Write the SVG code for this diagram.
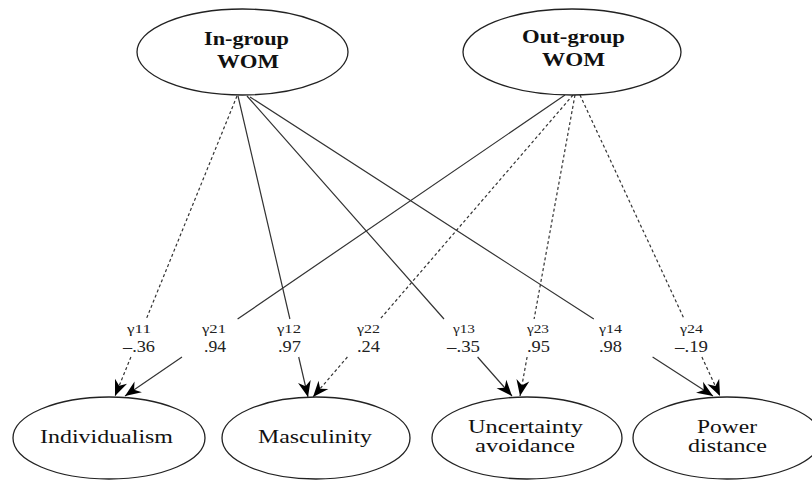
<svg xmlns="http://www.w3.org/2000/svg" width="812" height="480" viewBox="0 0 812 480">
<style>
.node{fill:#fff;stroke:#222;stroke-width:1.3}
.t{font-family:"Liberation Serif","Times New Roman",serif;fill:#111;text-anchor:middle}
.top{font-size:19px;font-weight:bold}
.bot{font-size:19px}
.g{font-size:12.5px;fill:#222}
.n{font-size:17px;fill:#222}
.c{fill:none;stroke:#333;stroke-width:1.2;marker-end:url(#arr)}
.d{stroke-dasharray:3 2.5}
</style>
<defs>
<marker id="arr" markerUnits="userSpaceOnUse" viewBox="-17 -8 18 16" refX="0" refY="0" markerWidth="18" markerHeight="16" orient="auto">
<path d="M0,0 L-16,-6.5 L-11,0 L-16,6.5 Z" fill="#000"/>
</marker>
</defs>
<g id="connectors">
<path class="c d" d="M237,96 L146.3,319 M130.9,357 L115,396"/>
<path class="c" d="M238,96 L289.9,319 M298.7,357 L308,397"/>
<path class="c" d="M247,96 L444,319 M477.6,357 L512,396"/>
<path class="c" d="M250,97 L593.8,319 M652.6,357 L713,396"/>
<path class="c" d="M565,95 L237.6,319 M182,357 L125,396"/>
<path class="c d" d="M573,95 L380.2,319 M347.4,357 L313,397"/>
<path class="c d" d="M575,95 L534.1,319 M527.1,357 L520,396"/>
<path class="c d" d="M580,95 L684.2,319 M701.9,357 L720,396"/>
</g>
<g id="labels">
<text class="t g" x="139" y="333" textLength="24" lengthAdjust="spacingAndGlyphs">γ11</text>
<text class="t n" x="139" y="352" textLength="32" lengthAdjust="spacingAndGlyphs">–.36</text>
<text class="t g" x="214" y="333" textLength="24" lengthAdjust="spacingAndGlyphs">γ21</text>
<text class="t n" x="215" y="352" textLength="22" lengthAdjust="spacingAndGlyphs">.94</text>
<text class="t g" x="289" y="333" textLength="24" lengthAdjust="spacingAndGlyphs">γ12</text>
<text class="t n" x="289.5" y="352" textLength="23" lengthAdjust="spacingAndGlyphs">.97</text>
<text class="t g" x="368.5" y="333" textLength="23" lengthAdjust="spacingAndGlyphs">γ22</text>
<text class="t n" x="368.5" y="352" textLength="23" lengthAdjust="spacingAndGlyphs">.24</text>
<text class="t g" x="464" y="333" textLength="22" lengthAdjust="spacingAndGlyphs">γ13</text>
<text class="t n" x="463.5" y="352" textLength="33" lengthAdjust="spacingAndGlyphs">–.35</text>
<text class="t g" x="538" y="333" textLength="22" lengthAdjust="spacingAndGlyphs">γ23</text>
<text class="t n" x="538.5" y="352" textLength="23" lengthAdjust="spacingAndGlyphs">.95</text>
<text class="t g" x="610.5" y="333" textLength="23" lengthAdjust="spacingAndGlyphs">γ14</text>
<text class="t n" x="610.5" y="352" textLength="23" lengthAdjust="spacingAndGlyphs">.98</text>
<text class="t g" x="691.5" y="333" textLength="23" lengthAdjust="spacingAndGlyphs">γ24</text>
<text class="t n" x="691.5" y="352" textLength="33" lengthAdjust="spacingAndGlyphs">–.19</text>
</g>
<g id="ingroup">
<ellipse class="node" cx="242.5" cy="52" rx="105.5" ry="43"/>
<text class="t top" x="246.5" y="45" textLength="85" lengthAdjust="spacingAndGlyphs">In-group</text>
<text class="t top" x="248" y="68" textLength="62" lengthAdjust="spacingAndGlyphs">WOM</text>
</g>
<g id="outgroup">
<ellipse class="node" cx="572" cy="52" rx="109" ry="43"/>
<text class="t top" x="573.5" y="43" textLength="103" lengthAdjust="spacingAndGlyphs">Out-group</text>
<text class="t top" x="573.5" y="66" textLength="63" lengthAdjust="spacingAndGlyphs">WOM</text>
</g>
<g id="individualism">
<ellipse class="node" cx="109" cy="438" rx="96" ry="41"/>
<text class="t bot" x="106.5" y="443" textLength="133" lengthAdjust="spacingAndGlyphs">Individualism</text>
</g>
<g id="masculinity">
<ellipse class="node" cx="316" cy="438" rx="94" ry="41"/>
<text class="t bot" x="315" y="443" textLength="114" lengthAdjust="spacingAndGlyphs">Masculinity</text>
</g>
<g id="uncertainty">
<ellipse class="node" cx="527" cy="438" rx="95" ry="41"/>
<text class="t bot" x="525.5" y="433" textLength="115" lengthAdjust="spacingAndGlyphs">Uncertainty</text>
<text class="t bot" x="525" y="452" textLength="100" lengthAdjust="spacingAndGlyphs">avoidance</text>
</g>
<g id="power">
<ellipse class="node" cx="727" cy="438" rx="94" ry="41"/>
<text class="t bot" x="727" y="433" textLength="60" lengthAdjust="spacingAndGlyphs">Power</text>
<text class="t bot" x="727.5" y="452" textLength="79" lengthAdjust="spacingAndGlyphs">distance</text>
</g>
</svg>
